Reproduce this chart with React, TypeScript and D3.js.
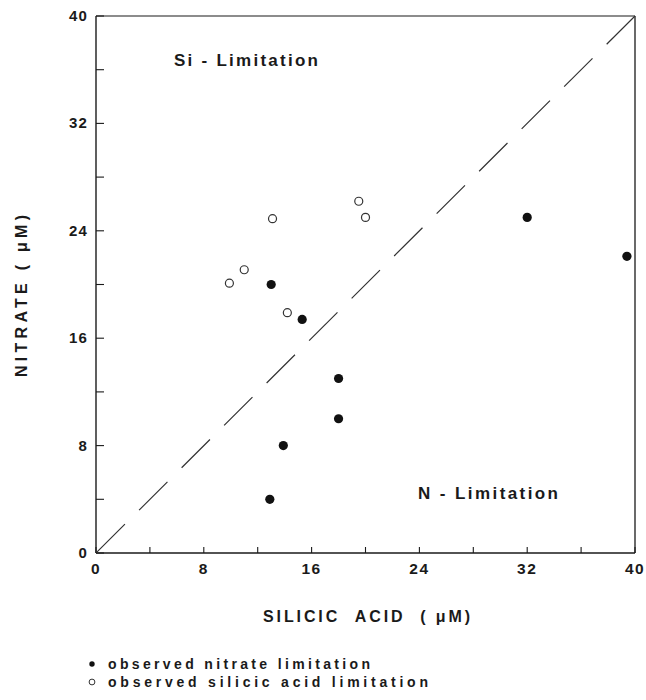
import React from "react";
import * as d3 from "d3";

// Data (µM)
const nitrateLimitedSi = [13.0, 15.3, 18.0, 18.0, 13.9, 12.9, 32.0, 39.4];
const nitrateLimitedN = [20.0, 17.4, 13.0, 10.0, 8.0, 4.0, 25.0, 22.1];
const silicaLimitedSi = [9.9, 11.0, 13.1, 14.2, 19.5, 20.0];
const silicaLimitedN = [20.1, 21.1, 24.9, 17.9, 26.2, 25.0];
const majorTicks = [0, 8, 16, 24, 32, 40];
const minorTicks = [4, 12, 20, 28, 36];
const xTickLabels = ["0", "8", "16", "24", "32", "40"];
const yTickLabels = ["0", "8", "16", "24", "32", "40"];
const domain = [0, 40];

const FONT = "'Liberation Sans', Arial, Helvetica, sans-serif";
const INK = "#1a1a1a";

export default function App() {
  const x = d3.scaleLinear().domain(domain).range([96, 635]);
  const y = d3.scaleLinear().domain(domain).range([553, 16]);
  const [x0, x1] = x.range();
  const [y0, y1] = y.range();

  // drawn from the top-right corner down so a dash meets the corner
  const diag = d3.line<number>()
    .x((d) => x(d))
    .y((d) => y(d))([domain[1], domain[0]]) as string;

  return (
    <svg
      width={646}
      height={700}
      style={{ position: "absolute", left: 0, top: 0, background: "#fff" }}
      fontFamily={FONT}
    >
      {/* frame */}
      <line x1={x0} y1={y0} x2={x1} y2={y0} stroke={INK} strokeWidth={1.4} />
      <line x1={x0} y1={y0} x2={x0} y2={y1} stroke={INK} strokeWidth={1.4} />
      <line x1={x0} y1={y1} x2={x1} y2={y1} stroke={INK} strokeWidth={1.2} />
      <line x1={x1} y1={y1} x2={x1} y2={y0} stroke={INK} strokeWidth={1.3} />

      {/* x ticks (inward) */}
      {majorTicks.concat(minorTicks).map((t) => (
        <line key={"xt" + t} x1={x(t)} x2={x(t)} y1={y0} y2={y0 - 6} stroke={INK} strokeWidth={1.1} />
      ))}
      {/* y ticks (inward) */}
      {majorTicks.concat(minorTicks).map((t) => (
        <line key={"yt" + t} x1={x0} x2={x0 + 8} y1={y(t)} y2={y(t)} stroke={INK} strokeWidth={1.1} />
      ))}

      {/* x tick labels */}
      {majorTicks.map((t, i) => (
        <text key={"xl" + t} x={x(t)} y={574} textAnchor="middle" fontSize={15.5} fontWeight="bold" fill={INK} letterSpacing={1.5}>
          {xTickLabels[i]}
        </text>
      ))}
      {/* y tick labels */}
      {majorTicks.map((t, i) => (
        <text key={"yl" + t} x={88} y={y(t) + 5} textAnchor="end" fontSize={15} fontWeight="bold" fill={INK} letterSpacing={1.2}>
          {yTickLabels[i]}
        </text>
      ))}

      {/* 1:1 dashed line */}
      <path d={diag} fill="none" stroke="#333" strokeWidth={1.2} strokeDasharray="40,20" />

      {/* region labels */}
      <text x={174} y={66} fontSize={17} fontWeight="bold" fill={INK} textLength={144} lengthAdjust="spacing">
        Si - Limitation
      </text>
      <text x={418} y={499} fontSize={17} fontWeight="bold" fill={INK} textLength={140} lengthAdjust="spacing">
        N - Limitation
      </text>

      {/* silicic acid limitation (open) */}
      {silicaLimitedSi.map((v, i) => (
        <circle key={"o" + i} cx={x(v)} cy={y(silicaLimitedN[i])} r={4} fill="#fff" stroke="#333" strokeWidth={1.2} />
      ))}
      {/* nitrate limitation (filled) */}
      {nitrateLimitedSi.map((v, i) => (
        <circle key={"f" + i} cx={x(v)} cy={y(nitrateLimitedN[i])} r={4.6} fill="#111" />
      ))}

      {/* axis titles */}
      <text x={263} y={622} fontSize={16} fontWeight="bold" fill={INK} textLength={207} lengthAdjust="spacing">
        SILICIC{"\u00a0\u00a0"}ACID{"\u00a0\u00a0"}({"\u00a0"}μM)
      </text>
      <text
        transform={`translate(27,377) rotate(-90)`}
        fontSize={16}
        fontWeight="bold"
        fill={INK}
        textLength={162}
        lengthAdjust="spacing"
      >
        NITRATE ({"\u00a0"}μM)
      </text>

      {/* legend */}
      <circle cx={92} cy={664} r={2.7} fill="#111" />
      <text x={108} y={669} fontSize={14} fontWeight="bold" fill={INK} textLength={262} lengthAdjust="spacing">
        observed nitrate limitation
      </text>
      <circle cx={92} cy={682} r={2.9} fill="#fff" stroke="#333" strokeWidth={1} />
      <text x={108} y={687} fontSize={14} fontWeight="bold" fill={INK} textLength={320} lengthAdjust="spacing">
        observed silicic acid limitation
      </text>
    </svg>
  );
}
